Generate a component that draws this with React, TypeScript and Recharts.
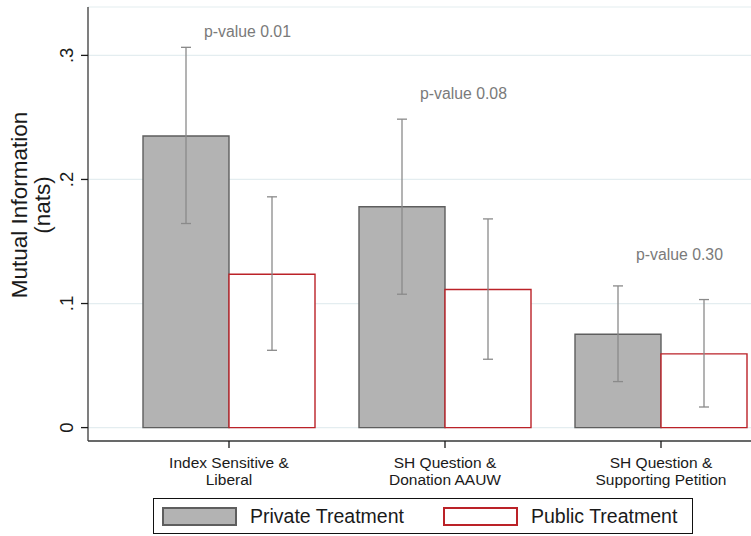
import React from 'react';
import {
  ComposedChart,
  Bar,
  Line,
  XAxis,
  YAxis,
  CartesianGrid,
  ErrorBar,
  LabelList,
} from 'recharts';

const categories: string[][] = [
  ['Index Sensitive &', 'Liberal'],
  ['SH Question &', 'Donation AAUW'],
  ['SH Question &', 'Supporting Petition'],
];
const privateValues = [0.235, 0.178, 0.0752];
const privateLow = [0.1645, 0.1075, 0.0371];
const privateHigh = [0.3065, 0.2486, 0.1142];
const publicValues = [0.1236, 0.1113, 0.0594];
const publicLow = [0.0623, 0.0551, 0.0166];
const publicHigh = [0.186, 0.1682, 0.1032];
const pLabels = ['p-value 0.01', 'p-value 0.08', 'p-value 0.30'];
const pLabelY = [0.319, 0.269, 0.1395];
const yTicks = [0, 0.1, 0.2, 0.3];
const yTickLabels = ['0', '.1', '.2', '.3'];
const seriesNames = ['Private Treatment', 'Public Treatment'];

const FONT = '"Liberation Sans", Arial, sans-serif';
const PRIV_FILL = '#b3b3b3';
const PRIV_STROKE = '#5e5e5e';
const PUB_STROKE = '#bb2228';
const ERR = '#8a8a8a';

const data = categories.map((c, i) => ({
  key: String(i),
  lines: c,
  priv: privateValues[i],
  privErr: [privateValues[i] - privateLow[i], privateHigh[i] - privateValues[i]],
  pub: publicValues[i],
  pubErr: [publicValues[i] - publicLow[i], publicHigh[i] - publicValues[i]],
  pY: pLabelY[i],
  pText: pLabels[i],
}));

const XTick = (props: any) => {
  const { x, y, payload } = props;
  const lines = categories[Number(payload.value)] || [];
  return (
    <g>
      {lines.map((l, i) => (
        <text
          key={i}
          x={x}
          y={y + 18 + i * 17}
          textAnchor="middle"
          fontFamily={FONT}
          fontSize={15.5}
          fill="#1a1a1a"
        >
          {l}
        </text>
      ))}
    </g>
  );
};

const YTick = (props: any) => {
  const { y, payload } = props;
  const idx = yTicks.indexOf(payload.value);
  const label = idx >= 0 ? yTickLabels[idx] : String(payload.value);
  const cx = 73;
  return (
    <text
      x={cx}
      y={y}
      transform={`rotate(-90, ${cx}, ${y})`}
      textAnchor="middle"
      fontFamily={FONT}
      fontSize={18.5}
      fill="#1a1a1a"
    >
      {label}
    </text>
  );
};

const PLabel = (props: any) => {
  const { x, y, index } = props;
  return (
    <text
      x={x - 25}
      y={y + 5.5}
      textAnchor="start"
      fontFamily={FONT}
      fontSize={15.8}
      fill="#7a7a7a"
    >
      {pLabels[index]}
    </text>
  );
};

const YTitle = (props: any) => {
  const { viewBox } = props;
  const cy = viewBox.y + viewBox.height / 2 - 19;
  return (
    <g>
      <text
        x={27}
        y={cy}
        transform={`rotate(-90, 27, ${cy})`}
        textAnchor="middle"
        fontFamily={FONT}
        fontSize={22.5}
        fill="#1a1a1a"
      >
        Mutual Information
      </text>
      <text
        x={50}
        y={cy}
        transform={`rotate(-90, 50, ${cy})`}
        textAnchor="middle"
        fontFamily={FONT}
        fontSize={22.5}
        fill="#1a1a1a"
      >
        (nats)
      </text>
    </g>
  );
};

export default function App() {
  return (
    <div
      style={{
        position: 'absolute',
        left: 0,
        top: 0,
        width: 751,
        height: 536,
        overflow: 'hidden',
        background: '#fff',
      }}
    >
      <ComposedChart
        width={780}
        height={536}
        data={data}
        margin={{ top: 7, right: 11, bottom: 0, left: 0 }}
        barGap={0}
      >
        <CartesianGrid vertical={false} stroke="#e4edf0" strokeWidth={1.2} />
        <XAxis
          dataKey="key"
          height={95}
          padding={{ left: 33, right: 0 }}
          stroke="#3a3a3a"
          strokeWidth={1.3}
          tickSize={7}
          tickLine={{ stroke: '#1a1a1a' }}
          tick={<XTick />}
          interval={0}
        />
        <YAxis
          width={88}
          domain={[-0.0108, 0.339]}
          allowDataOverflow
          ticks={yTicks}
          stroke="#3a3a3a"
          strokeWidth={1.3}
          tickSize={7}
          tickLine={{ stroke: '#1a1a1a' }}
          tick={<YTick />}
          label={<YTitle />}
        />
        <Bar
          dataKey="priv"
          name={seriesNames[0]}
          barSize={86}
          fill={PRIV_FILL}
          stroke={PRIV_STROKE}
          strokeWidth={1.4}
          isAnimationActive={false}
        >
          <ErrorBar dataKey="privErr" width={5} stroke={ERR} strokeWidth={1.3} />
        </Bar>
        <Bar
          dataKey="pub"
          name={seriesNames[1]}
          barSize={86}
          fill="#ffffff"
          stroke={PUB_STROKE}
          strokeWidth={1.4}
          isAnimationActive={false}
        >
          <ErrorBar dataKey="pubErr" width={5} stroke={ERR} strokeWidth={1.3} />
        </Bar>
        <Line
          dataKey="pY"
          stroke="none"
          dot={false}
          activeDot={false}
          legendType="none"
          isAnimationActive={false}
        >
          <LabelList dataKey="pText" content={<PLabel />} />
        </Line>
      </ComposedChart>
      <div
        style={{
          position: 'absolute',
          left: 153,
          top: 498,
          width: 540,
          height: 36,
          boxSizing: 'border-box',
          border: '1.5px solid #111',
          fontFamily: FONT,
          fontSize: 19.5,
          color: '#1a1a1a',
        }}
      >
        {seriesNames.map((n, i) => (
          <div
            key={n}
            style={{
              position: 'absolute',
              left: i === 0 ? 8 : 289,
              top: 0,
              height: 34,
              display: 'flex',
              alignItems: 'center',
            }}
          >
            <div
              style={{
                width: 75,
                height: 19,
                boxSizing: 'border-box',
                background: i === 0 ? PRIV_FILL : '#fff',
                border: `2px solid ${i === 0 ? PRIV_STROKE : PUB_STROKE}`,
                marginRight: 13,
              }}
            />
            <span style={{ whiteSpace: 'nowrap' }}>{n}</span>
          </div>
        ))}
      </div>
    </div>
  );
}
